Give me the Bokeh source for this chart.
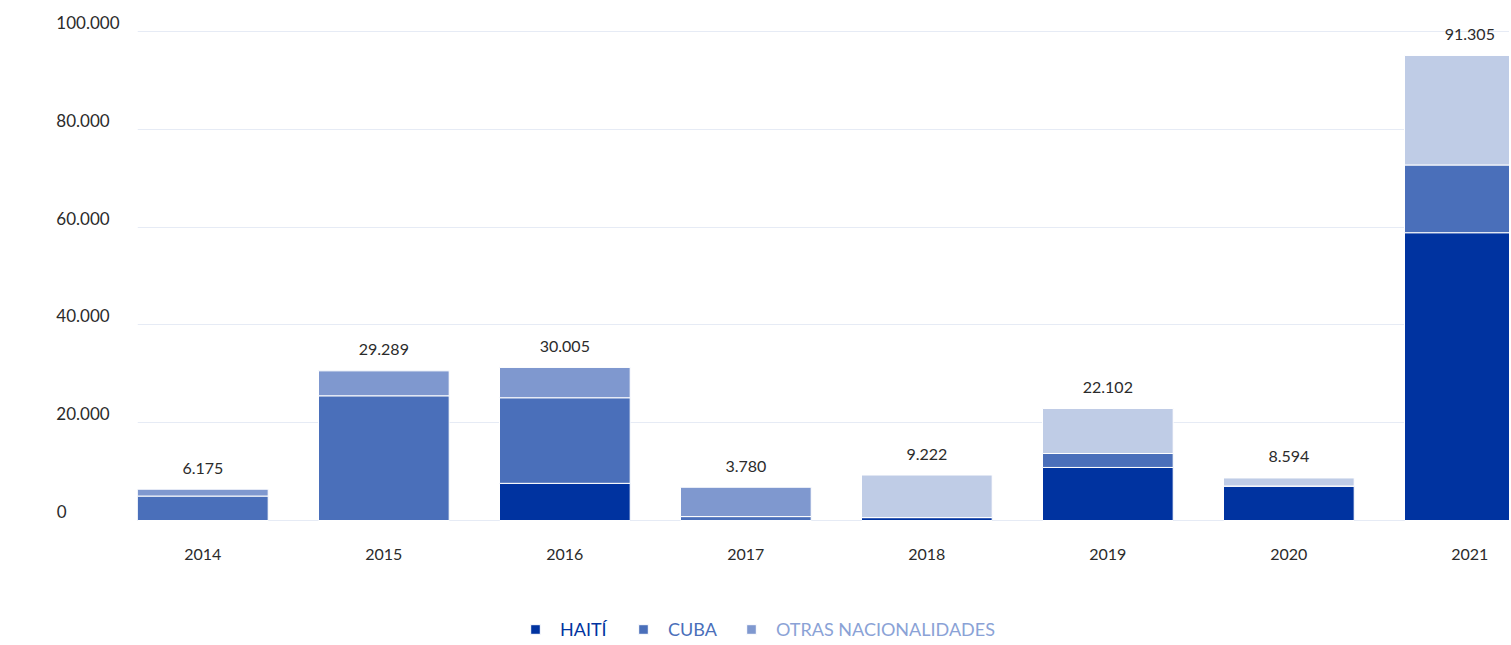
from bokeh.plotting import figure
from bokeh.models import ColumnDataSource, FixedTicker, Legend, LegendItem, Range1d
from bokeh.core.properties import value
from bokeh.embed import file_html
from bokeh.resources import INLINE

# ---- data ----
anios = ["2014", "2015", "2016", "2017", "2018", "2019", "2020", "2021"]
haiti = [0, 0, 7600, 0, 600, 10850, 7050, 58850]
cuba = [5000, 25500, 17500, 800, 0, 2850, 0, 13850]
otras = [1400, 5100, 6200, 6000, 8700, 9200, 1650, 22400]
totales_etiqueta = [6175, 29289, 30005, 3780, 9222, 22102, 8594, 91305]
ticks_y = [0, 20000, 40000, 60000, 80000, 100000]
series = ["HAITÍ", "CUBA", "OTRAS NACIONALIDADES"]

# ---- styles ----
C_HAITI = "#0033a0"
C_CUBA = "#4a6fba"
C_OTRAS = "#7f98cf"
C_OTRAS_CLARO = "#bfcce6"
otras_colores = [C_OTRAS] * 4 + [C_OTRAS_CLARO] * 4
FONT = "Lato"
TXT = "#2b2b2b"


def fmt(n):
    return f"{n:,}".replace(",", ".")


def fmt_left(n, width):
    # pad on the right with figure / punctuation spaces so that the
    # right-aligned axis labels read as left-aligned
    s = fmt(n)
    ref = fmt(width)
    nd = sum(ch.isdigit() for ch in ref) - sum(ch.isdigit() for ch in s)
    npunct = ref.count(".") - s.count(".")
    return s + "\u2007" * nd + "\u2008" * npunct + "\n"


x = list(range(len(anios)))
b_cuba = haiti
t_cuba = [h + c for h, c in zip(haiti, cuba)]
t_otras = [tc + o for tc, o in zip(t_cuba, otras)]

src = ColumnDataSource(dict(
    x=x, haiti=haiti, b_cuba=b_cuba, t_cuba=t_cuba, t_otras=t_otras,
    otras_color=otras_colores,
    etiqueta=[fmt(v) for v in totales_etiqueta],
))

PX_PER_UNIT = 181.0
FRAME_W = 1372
p = figure(
    frame_width=FRAME_W, frame_height=631,
    min_border_left=137, min_border_right=0, min_border_top=12, min_border_bottom=0,
    x_range=Range1d(-0.361, -0.361 + FRAME_W / PX_PER_UNIT),
    y_range=Range1d(-25153, 103885),
    output_backend="svg", toolbar_location=None,
)
p.outline_line_color = None
p.background_fill_color = "white"

W = 0.722
r_h = p.vbar(x="x", bottom=0, top="haiti", width=W, source=src,
             fill_color=C_HAITI, line_color="white", line_width=1)
r_c = p.vbar(x="x", bottom="b_cuba", top="t_cuba", width=W, source=src,
             fill_color=C_CUBA, line_color="white", line_width=1)
r_o = p.vbar(x="x", bottom="t_cuba", top="t_otras", width=W, source=src,
             fill_color="otras_color", line_color="white", line_width=1)

p.text(x="x", y="t_otras", text="etiqueta", source=src,
       text_font=value(FONT), text_font_size="16px", text_color=TXT,
       text_align="center", text_baseline="alphabetic", y_offset=-21)

# grid
p.xgrid.visible = False
p.ygrid.ticker = FixedTicker(ticks=ticks_y)
p.ygrid.grid_line_color = "#e6ebf5"
p.ygrid.grid_line_width = 1

# y axis
ya = p.yaxis[0]
ya.ticker = FixedTicker(ticks=ticks_y)
ya.major_label_overrides = {t: fmt_left(t, max(ticks_y)) for t in ticks_y}
ya.axis_line_color = None
ya.major_tick_line_color = None
ya.minor_tick_line_color = None
ya.major_label_text_font = FONT
ya.major_label_text_font_size = "17px"
ya.major_label_text_color = TXT
ya.major_label_text_line_height = 0.85
ya.major_label_standoff = 12

# x axis, pinned at y = 0 so the frame can hold the legend below it
xa = p.xaxis[0]
xa.fixed_location = 0
xa.ticker = FixedTicker(ticks=x)
xa.major_label_overrides = {i: a for i, a in zip(x, anios)}
xa.axis_line_color = None
xa.major_tick_line_color = None
xa.minor_tick_line_color = None
xa.major_label_text_font = FONT
xa.major_label_text_font_size = "16px"
xa.major_label_text_color = TXT
xa.major_label_standoff = 22

# legends (one per series so each label has its own colour)
leg_specs = [
    (series[0], r_h, C_HAITI, 392),
    (series[1], r_c, C_CUBA, 500),
    (series[2], r_o, "#8aa2d6", 608),
]
for name, rend, col, lx in leg_specs:
    lg = Legend(items=[LegendItem(label=name, renderers=[rend], index=0)],
                location=(lx, 3), orientation="horizontal",
                glyph_width=12, glyph_height=12, label_standoff=19,
                padding=0, margin=0, spacing=0,
                border_line_color=None, background_fill_alpha=0,
                label_text_font=FONT, label_text_font_size="18px",
                label_text_color=col, label_height=20)
    p.add_layout(lg, "center")

open("out.html", "w").write(file_html(p, INLINE))
